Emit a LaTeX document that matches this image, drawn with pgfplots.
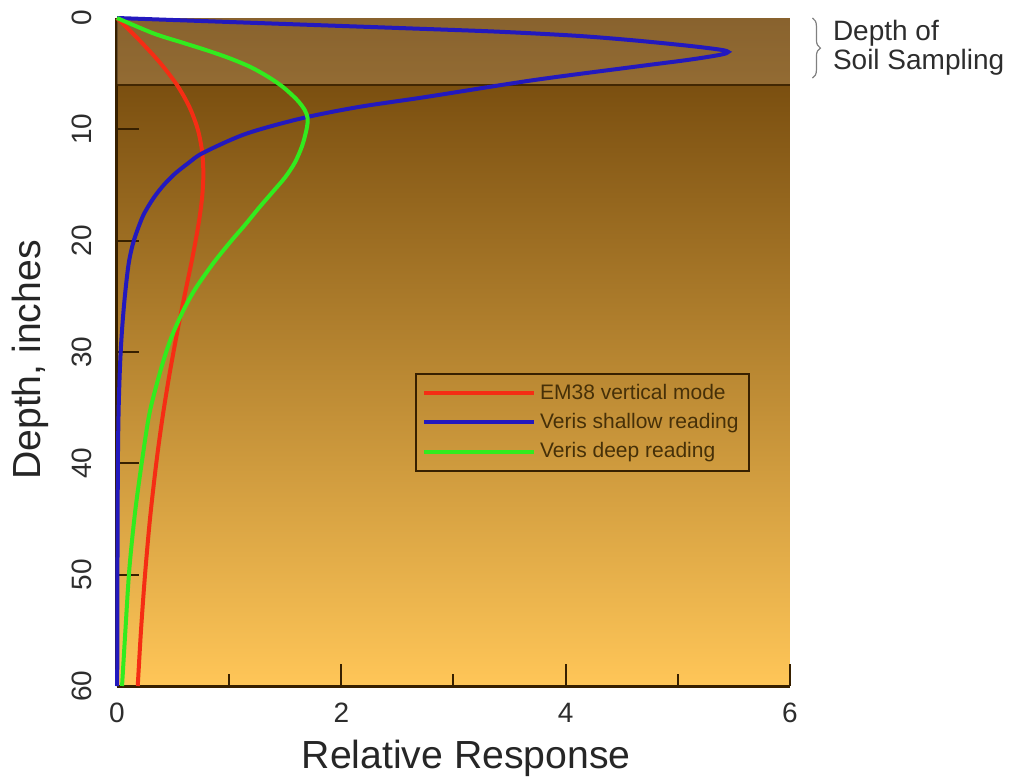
\documentclass[border=0pt]{standalone}
\usepackage{pgfplots}
\pgfplotsset{compat=1.18}
\usepackage{fontspec}
\setmainfont{Liberation Sans}
\usetikzlibrary{decorations.pathreplacing}
\definecolor{axisbrown}{RGB}{55,32,0}
\definecolor{cblue}{RGB}{35,25,190}
\definecolor{cred}{RGB}{245,45,20}
\definecolor{cgreen}{RGB}{50,235,30}
\definecolor{bgtop}{RGB}{108,66,8}
\definecolor{bgmid}{RGB}{207,148,60}
\definecolor{bgbot}{RGB}{255,198,88}
\definecolor{bandcol}{RGB}{205,175,135}
\definecolor{legtext}{RGB}{70,48,8}
\definecolor{txtgray}{RGB}{45,45,45}
\begin{document}
\begin{tikzpicture}
\begin{axis}[
  scale only axis,
  width=336.5pt, height=334pt,
  xmin=0, xmax=6, ymin=0, ymax=60,
  y dir=reverse,
  axis x line=bottom, axis y line=left,
  axis line style={-, draw=axisbrown, line width=1.5pt},
  axis background/.style={top color=bgtop, middle color=bgmid, bottom color=bgbot},
  tick align=inside,
  xtick={0,2,4,6}, minor xtick={1,3,5},
  ytick={0,10,20,30,40,50,60},
  major tick length=11pt, minor tick length=6pt,
  every tick/.style={draw=axisbrown, line width=1pt},
  /pgf/number format/assume math mode=true,
  ticklabel style={font=\fontsize{14}{14}\selectfont, text=txtgray},
  yticklabel style={rotate=90, anchor=south},
  yticklabel shift=9pt, xticklabel shift=5pt,
  xlabel={Relative Response}, ylabel={Depth, inches},
  label style={font=\fontsize{19.6}{20}\selectfont, text=black!85},
  ylabel style={at={(axis description cs:-0.129,0.488)}, anchor=center},
  xlabel style={at={(axis description cs:0.519,-0.1228)}, anchor=base},
  clip=false,
  legend style={at={(axis description cs:0.443,0.4686)}, anchor=north west,
    draw=axisbrown, line width=1pt, fill=none, text=legtext,
    font=\fontsize{10.5}{12}\selectfont, inner sep=3pt, row sep=1.5pt},
  legend cell align=left,
  legend image code/.code={\draw[#1, line width=2pt] (0pt,0pt) -- (55pt,0pt);},
]
\coordinate (bl) at (axis cs:0,60);
\coordinate (tr) at (axis cs:6,0);
\fill[bandcol, opacity=0.3] (axis cs:0,0) rectangle (axis cs:6,6);
\draw[color=axisbrown!80!bgtop, line width=0.8pt] (axis cs:0,6) -- (axis cs:6,6);

\addplot[cred, line width=2pt, smooth] coordinates {
(0,0) (0.2,2) (0.382,4) (0.534,6) (0.646,8) (0.72,10) (0.759,12) (0.77,14)
(0.76,16) (0.735,18) (0.701,20) (0.663,22) (0.601,25) (0.541,28) (0.468,32)
(0.404,36) (0.35,40) (0.294,45) (0.25,50) (0.214,55) (0.185,60)};
\addlegendentry{EM38 vertical mode}

\addplot[cblue, line width=2pt, smooth, tension=0.5] coordinates {
(0,0) (0.92,0.33) (1.76,0.63) (2.6,0.93) (3.4,1.23) (4.1,1.6) (4.6,2.0)
(5.1,2.5) (5.38,2.85) (5.45,3.05) (5.38,3.3) (5.1,3.75) (4.6,4.4) (3.7,5.6)
(2.75,7.1) (2.15,8.0) (1.65,9.0) (1.15,10.4) (0.77,12.1) (0.64,13.0) (0.515,14.0)
(0.417,15.0) (0.338,16.0) (0.274,17.0) (0.222,18.0) (0.15,20.0) (0.105,22.0)
(0.07,25) (0.045,28) (0.028,31) (0.015,35) (0.008,40) (0.004,50) (0.002,60)};
\addlegendentry{Veris shallow reading}

\addplot[cgreen, line width=2pt, smooth] coordinates {
(0,0) (0.33,1.4) (0.58,2.2) (0.8,2.9) (1.0,3.6) (1.19,4.4) (1.35,5.3) (1.48,6.2)
(1.6,7.3) (1.67,8.2) (1.70,9.0) (1.69,10.0) (1.65,11.5) (1.585,13.0) (1.50,14.3)
(1.39,15.6) (1.27,17.0) (1.14,18.6) (1.02,20.0) (0.86,22.0) (0.70,24.3) (0.59,26.3)
(0.48,28.8) (0.39,31.6) (0.29,35.5) (0.22,40) (0.16,44.5) (0.11,49.5) (0.075,55) (0.045,60)};
\addlegendentry{Veris deep reading}

\draw[decorate, decoration={brace, amplitude=4pt}, draw=gray, line width=0.6pt]
  (axis cs:6.2,0) -- (axis cs:6.2,5.4);
\node[anchor=west, align=left, text=txtgray, font=\fontsize{14}{14.5}\selectfont, inner sep=0pt]
  at (axis cs:6.38,2.7) {Depth of\\Soil Sampling};
\end{axis}
\pgfresetboundingbox
\path ([shift={(-58.5pt,-46pt)}]bl) rectangle ([shift={(112.5pt,9pt)}]tr);
\end{tikzpicture}
\end{document}
